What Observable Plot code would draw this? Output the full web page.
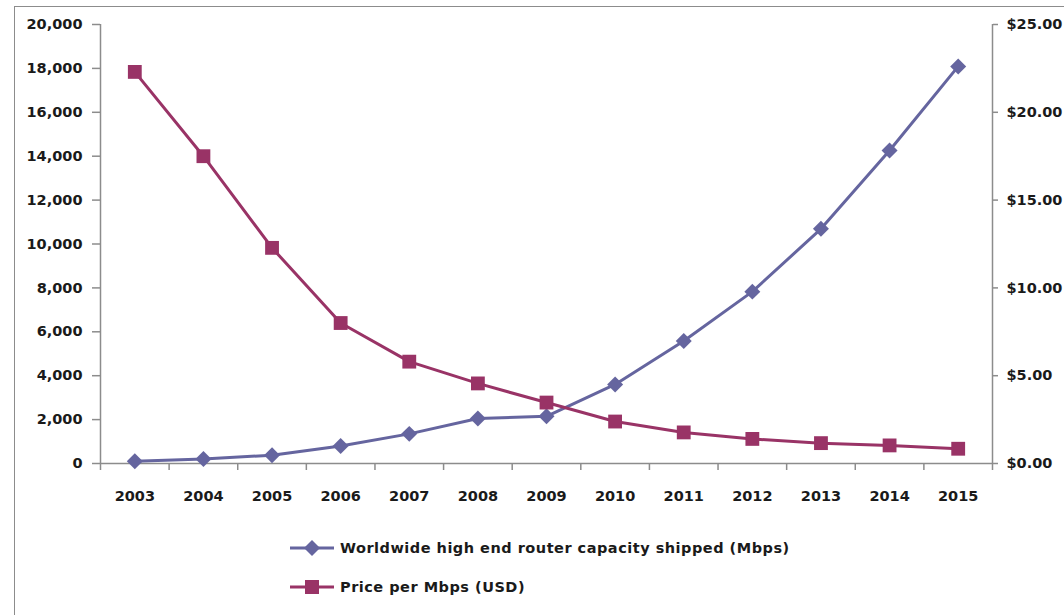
<!DOCTYPE html>
<html>
<head>
<meta charset="utf-8">
<script src="https://cdn.jsdelivr.net/npm/d3@7"></script>
<script src="https://cdn.jsdelivr.net/npm/@observablehq/plot@0.6"></script>
<style>
  html, body { margin: 0; padding: 0; background: #fff; }
  #wrap { position: relative; width: 1064px; height: 615px; overflow: hidden; font-family: "DejaVu Sans", sans-serif; }
  #frame { position: absolute; left: 14px; top: 6px; width: 1200px; height: 800px; border: 1px solid #8c8c8c; }
  #chart { position: absolute; left: 0; top: 0; }
  #legend { position: absolute; left: 288px; top: 534px; font-size: 14.5px; font-weight: bold; letter-spacing: 0.5px; color: #1a1a1a; }
  .item { display: flex; align-items: center; height: 28px; margin-bottom: 11px; }
  .item svg { margin-right: 4px; }
</style>
</head>
<body>
<div id="wrap">
  <div id="frame"></div>
  <div id="chart"></div>
  <div id="legend"></div>
</div>
<script>
const years = [2003, 2004, 2005, 2006, 2007, 2008, 2009, 2010, 2011, 2012, 2013, 2014, 2015];
const capacity = [100, 200, 380, 800, 1350, 2050, 2150, 3600, 5580, 7830, 10690, 14260, 18090];
const price = [22.3, 17.5, 12.28, 8.0, 5.8, 4.56, 3.47, 2.39, 1.77, 1.4, 1.16, 1.03, 0.84];
const leftTicks = [0, 2000, 4000, 6000, 8000, 10000, 12000, 14000, 16000, 18000, 20000];
const rightTicks = [0, 5, 10, 15, 20, 25];
const seriesNames = ["Worldwide high end router capacity shipped (Mbps)", "Price per Mbps (USD)"];
const colors = ["#65659f", "#993366"];

const leftMax = 20000, rightMax = 25;
const k = leftMax / rightMax;

const capData = years.map((y, i) => ({year: y, v: capacity[i]}));
const priceData = years.map((y, i) => ({year: y, v: price[i] * k}));
const edges = years.map(y => y - 0.5).concat([years[years.length - 1] + 0.5]);
const x0 = edges[0], x1 = edges[edges.length - 1];

const axisColor = "#8c8c8c";
const fontFam = "'DejaVu Sans', sans-serif";

const plot = Plot.plot({
  width: 1064,
  height: 500,
  marginLeft: 100,
  marginRight: 72,
  marginTop: 24,
  marginBottom: 37,
  style: { fontFamily: fontFam, fontSize: "14px", color: "#1a1a1a", background: "transparent", overflow: "visible" },
  x: { type: "linear", domain: [x0, x1], label: null },
  y: { domain: [0, leftMax], label: null },
  marks: [
    Plot.ruleX([x0], { stroke: axisColor, strokeWidth: 1.5 }),
    Plot.ruleX([x1], { stroke: axisColor, strokeWidth: 1.5 }),
    Plot.ruleY([0], { stroke: axisColor, strokeWidth: 1.5 }),
    Plot.axisX({ ticks: edges, tickFormat: () => "", tickSize: 7, stroke: axisColor, strokeWidth: 1.5, label: null }),
    Plot.axisX({ ticks: years, tickSize: 0, tickPadding: 27, tickFormat: d => String(d), fontWeight: "bold", fontSize: 14.5, label: null }),
    Plot.axisY({ anchor: "left", ticks: leftTicks, tickFormat: d3.format(","), tickSize: 8, tickPadding: 10, stroke: axisColor, strokeWidth: 1.5, fontWeight: "bold", fontSize: 14.5, label: null }),
    Plot.axisY({ anchor: "right", ticks: rightTicks.map(t => t * k), tickFormat: d => "$" + (d / k).toFixed(2), tickSize: 5, tickPadding: 9, stroke: axisColor, strokeWidth: 1.5, fontWeight: "bold", fontSize: 14.5, label: null }),
    Plot.line(capData, { x: "year", y: "v", stroke: colors[0], strokeWidth: 3 }),
    Plot.dot(capData, { x: "year", y: "v", symbol: "diamond2", r: 7.2, fill: colors[0], stroke: "none" }),
    Plot.line(priceData, { x: "year", y: "v", stroke: colors[1], strokeWidth: 3 }),
    Plot.dot(priceData, { x: "year", y: "v", symbol: "square", r: 7.8, fill: colors[1], stroke: "none" })
  ]
});
document.getElementById("chart").appendChild(plot);

const legend = document.getElementById("legend");
seriesNames.forEach((name, i) => {
  const item = document.createElement("div");
  item.className = "item";
  const sym = i === 0
    ? `<path d="M24,6 L32,14 L24,22 L16,14 Z" fill="${colors[0]}"/>`
    : `<rect x="17" y="7" width="14" height="14" fill="${colors[1]}"/>`;
  item.innerHTML = `<svg width="48" height="28"><line x1="2" y1="14" x2="46" y2="14" stroke="${colors[i]}" stroke-width="3"/>${sym}</svg><span>${name}</span>`;
  legend.appendChild(item);
});
</script>
</body>
</html>
